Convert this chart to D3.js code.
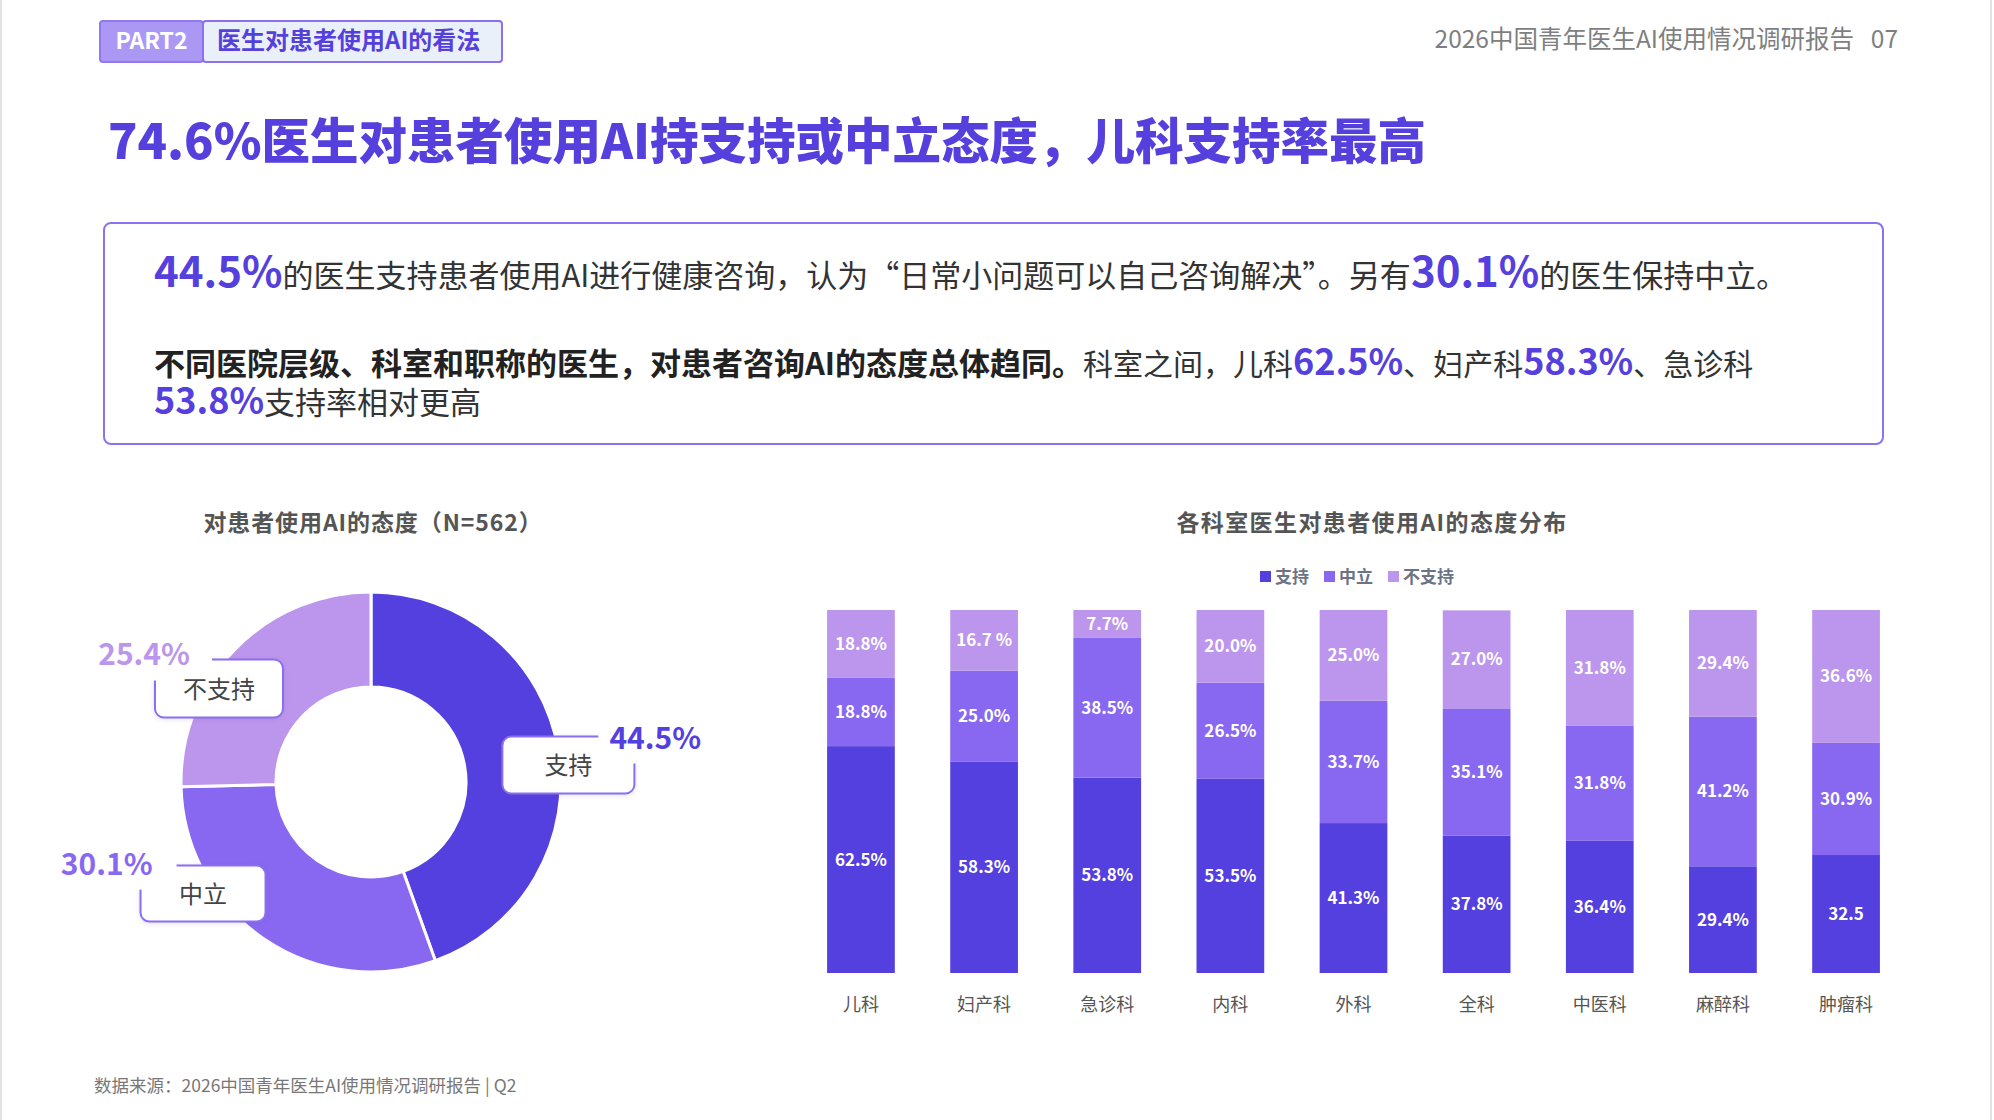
<!DOCTYPE html>
<html>
<head>
<meta charset="utf-8">
<script src="https://cdn.jsdelivr.net/npm/d3@7"></script>
<style>
  body { margin: 0; background: #fff; }
  svg { display: block; font-family: "Noto Sans CJK SC", "Noto Sans", sans-serif; }
</style>
</head>
<body>
<svg id="chart" width="1994" height="1120"></svg>
<script>
// 数据
const pieLabels = ["支持", "中立", "不支持"];
const pieValues = [44.5, 30.1, 25.4];

const departments = ["儿科", "妇产科", "急诊科", "内科", "外科", "全科", "中医科", "麻醉科", "肿瘤科"];
const supportVals = [62.5, 58.3, 53.8, 53.5, 41.3, 37.8, 36.4, 29.4, 32.5];
const neutralVals = [18.8, 25.0, 38.5, 26.5, 33.7, 35.1, 31.8, 41.2, 30.9];
const againstVals = [18.8, 16.7, 7.7, 20.0, 25.0, 27.0, 31.8, 29.4, 36.6];
const supportText = ["62.5%", "58.3%", "53.8%", "53.5%", "41.3%", "37.8%", "36.4%", "29.4%", "32.5"];
const neutralText = ["18.8%", "25.0%", "38.5%", "26.5%", "33.7%", "35.1%", "31.8%", "41.2%", "30.9%"];
const againstText = ["18.8%", "16.7 %", "7.7%", "20.0%", "25.0%", "27.0%", "31.8%", "29.4%", "36.6%"];

const colors = ["#5440de", "#8868f0", "#bc96ec"];
const purple = "#5540de";

const svg = d3.select("#chart");

// 页面边线
svg.append("line").attr("x1", 1).attr("x2", 1).attr("y1", 0).attr("y2", 1120)
  .attr("stroke", "#e2e2e2").attr("stroke-width", 2);
svg.append("line").attr("x1", 1991).attr("x2", 1991).attr("y1", 0).attr("y2", 1120)
  .attr("stroke", "#e2e2e2").attr("stroke-width", 2);

// 顶部标签
svg.append("rect").attr("x", 100).attr("y", 21).attr("width", 103).attr("height", 41).attr("rx", 3)
  .attr("fill", "#ab98f5").attr("stroke", "#9178f1").attr("stroke-width", 2);
svg.append("rect").attr("x", 203).attr("y", 21).attr("width", 299).attr("height", 41).attr("rx", 3)
  .attr("fill", "#e9f0f9").attr("stroke", "#8b70f0").attr("stroke-width", 2);
svg.append("text").attr("x", 151.5).attr("y", 49).attr("text-anchor", "middle")
  .attr("font-size", 23).attr("font-weight", 700).attr("fill", "#fff").text("PART2");
svg.append("text").attr("x", 217).attr("y", 49)
  .attr("font-size", 24).attr("font-weight", 700).attr("fill", purple).text("医生对患者使用AI的看法");

svg.append("text").attr("x", 1854).attr("y", 48).attr("text-anchor", "end")
  .attr("font-size", 24.5).attr("fill", "#7f7f7f").text("2026中国青年医生AI使用情况调研报告");
svg.append("text").attr("x", 1898).attr("y", 48).attr("text-anchor", "end")
  .attr("font-size", 24.5).attr("fill", "#7f7f7f").text("07");

// 大标题
svg.append("text").attr("x", 108).attr("y", 159)
  .attr("font-size", 48.5).attr("font-weight", 900).attr("fill", purple)
  .text("74.6%医生对患者使用AI持支持或中立态度，儿科支持率最高");

// 文字框
svg.append("rect").attr("x", 104).attr("y", 223).attr("width", 1779).attr("height", 221).attr("rx", 7)
  .attr("fill", "none").attr("stroke", "#8d72ef").attr("stroke-width", 2);

function richLine(y, parts, baseSize) {
  const t = svg.append("text").attr("x", 154).attr("y", y).attr("fill", "#333");
  parts.forEach(p => {
    t.append("tspan")
      .attr("font-size", p.size || baseSize)
      .attr("font-weight", p.bold ? 700 : 400)
      .attr("fill", p.color || (p.bold ? "#222" : "#333"))
      .text(p.t);
  });
}
richLine(287, [
  {t: "44.5%", size: 42, bold: true, color: purple},
  {t: "的医生支持患者使用AI进行健康咨询，认为“日常小问题可以自己咨询解决”。另有"},
  {t: "30.1%", size: 42, bold: true, color: purple},
  {t: "的医生保持中立。"}
], 31);
richLine(375, [
  {t: "不同医院层级、科室和职称的医生，对患者咨询AI的态度总体趋同。", bold: true, size: 31},
  {t: "科室之间，儿科"},
  {t: "62.5%", size: 36, bold: true, color: purple},
  {t: "、妇产科"},
  {t: "58.3%", size: 36, bold: true, color: purple},
  {t: "、急诊科"}
], 30);
richLine(414, [
  {t: "53.8%", size: 36, bold: true, color: purple},
  {t: "支持率相对更高"}
], 31);

// ---------- 环形图 ----------
svg.append("text").attr("x", 373).attr("y", 531).attr("text-anchor", "middle")
  .attr("font-size", 23).attr("font-weight", 700).attr("fill", "#555").attr("letter-spacing", 0.9)
  .text("对患者使用AI的态度（N=562）");

const defs = svg.append("defs");
const shadow = defs.append("filter").attr("id", "shadow")
  .attr("x", "-20%").attr("y", "-20%").attr("width", "140%").attr("height", "150%");
shadow.append("feDropShadow").attr("dx", 0).attr("dy", 1).attr("stdDeviation", 2)
  .attr("flood-color", "#5a4a9a").attr("flood-opacity", 0.18);

const cx = 371, cy = 782;
const pie = d3.pie().sort(null).value(d => d)(pieValues);
const arc = d3.arc().innerRadius(95).outerRadius(190);
const donut = svg.append("g").attr("transform", `translate(${cx},${cy})`);
donut.selectAll("path")
  .data(pie)
  .join("path")
    .attr("d", arc)
    .attr("fill", (d, i) => colors[i])
    .attr("stroke", "#fff")
    .attr("stroke-width", 3);

// 标注框的位置（相对扇区中心）
const callouts = [
  {dx: -9,   dy: -21, w: 132, h: 57, gap: "tr"},
  {dx: -150, dy: -34, w: 125, h: 56, gap: "tl"},
  {dx: -114, dy: -23, w: 128, h: 58, gap: "tl"}
];
pie.forEach((d, i) => {
  const c = arc.centroid(d);
  const L = callouts[i];
  const bx = cx + c[0] + L.dx, by = cy + c[1] + L.dy;
  const g = svg.append("g");
  g.append("rect").attr("x", bx).attr("y", by).attr("width", L.w).attr("height", L.h).attr("rx", 9)
    .attr("fill", "#fff").attr("stroke", "#8a6ff0").attr("stroke-width", 2)
    .attr("filter", "url(#shadow)");
  const pct = d3.format(".1f")(pieValues[i]) + "%";
  if (L.gap === "tr") {
    g.append("rect").attr("x", bx + L.w - 36).attr("y", by - 8).attr("width", 46).attr("height", 35).attr("fill", "#fff");
    g.append("text").attr("x", bx + L.w - 25).attr("y", by + 12)
      .attr("font-size", 30).attr("font-weight", 700).attr("fill", colors[i]).text(pct);
  } else {
    const gw = i === 2 ? 57 : 36, gh = i === 2 ? 21 : 24;
    g.append("rect").attr("x", bx - 8).attr("y", by - 8).attr("width", gw + 8).attr("height", gh + 8).attr("fill", "#fff");
    g.append("text").attr("x", bx + (i === 2 ? 35 : 12)).attr("y", by + (i === 2 ? 5 : 9))
      .attr("text-anchor", "end")
      .attr("font-size", 30).attr("font-weight", 700).attr("fill", colors[i]).text(pct);
  }
  g.append("text").attr("x", bx + L.w / 2).attr("y", by + L.h / 2 + 1).attr("dy", "0.35em")
    .attr("text-anchor", "middle").attr("font-size", 24).attr("fill", "#444").text(pieLabels[i]);
});

// ---------- 堆叠柱状图 ----------
svg.append("text").attr("x", 1372).attr("y", 531).attr("text-anchor", "middle")
  .attr("font-size", 23).attr("font-weight", 700).attr("fill", "#555").attr("letter-spacing", 1.4)
  .text("各科室医生对患者使用AI的态度分布");

const keys = ["support", "neutral", "against"];
const rows = departments.map((dep, i) => ({
  dep: dep,
  support: supportVals[i], neutral: neutralVals[i], against: againstVals[i],
  labels: {support: supportText[i], neutral: neutralText[i], against: againstText[i]}
}));
const stacked = d3.stack().keys(keys)(rows);

const x = d3.scaleBand().domain(departments).range([800, 1907]).paddingInner(0.45).paddingOuter(0.22);
const y = d3.scaleLinear().domain([0, 100]).range([973, 610]).clamp(true);

const layers = svg.append("g").selectAll("g")
  .data(stacked)
  .join("g")
    .attr("fill", (d, i) => colors[i]);
layers.selectAll("rect")
  .data(d => d)
  .join("rect")
    .attr("x", d => x(d.data.dep))
    .attr("y", d => y(d[1]))
    .attr("width", x.bandwidth())
    .attr("height", d => y(d[0]) - y(d[1]));

svg.append("g").selectAll("g")
  .data(stacked)
  .join("g")
  .selectAll("text")
  .data(d => d.map(s => ({s: s, key: d.key})))
  .join("text")
    .attr("x", d => x(d.s.data.dep) + x.bandwidth() / 2)
    .attr("y", d => (y(d.s[0]) + y(d.s[1])) / 2)
    .attr("dy", "0.35em")
    .attr("text-anchor", "middle")
    .attr("font-size", 17)
    .attr("font-weight", 700)
    .attr("fill", "#fff")
    .text(d => d.s.data.labels[d.key]);

const xAxis = svg.append("g")
  .attr("transform", "translate(0,973)")
  .call(d3.axisBottom(x).tickSize(0).tickPadding(25));
xAxis.select(".domain").remove();
xAxis.selectAll("text")
  .attr("font-family", "\"Noto Sans CJK SC\", sans-serif")
  .attr("font-size", 18).attr("fill", "#555");

// 图例
const legend = svg.append("g").selectAll("g")
  .data(pieLabels)
  .join("g")
    .attr("transform", (d, i) => `translate(${1260 + i * 64},571)`);
legend.append("rect").attr("width", 11).attr("height", 11).attr("fill", (d, i) => colors[i]);
legend.append("text").attr("x", 15).attr("y", 6).attr("dy", "0.35em")
  .attr("font-size", 17).attr("font-weight", 700).attr("fill", "#6b7385").text(d => d);

// 数据来源
svg.append("text").attr("x", 94).attr("y", 1092)
  .attr("font-size", 17.5).attr("fill", "#777").attr("xml:space", "preserve")
  .text("数据来源：2026中国青年医生AI使用情况调研报告 | Q2");
</script>
</body>
</html>
